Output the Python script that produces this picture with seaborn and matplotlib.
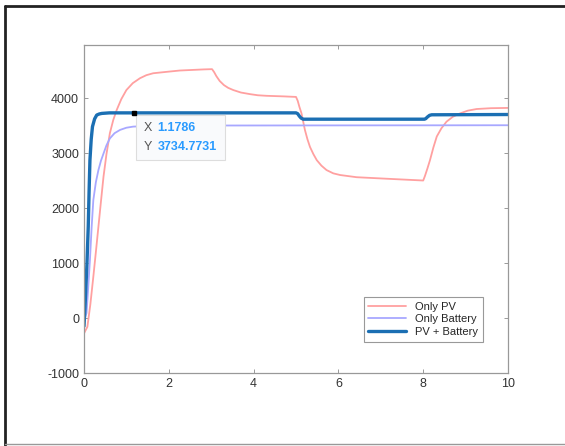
import numpy as np
import pandas as pd
import seaborn as sns
from matplotlib import pyplot as plt
from matplotlib.lines import Line2D
from matplotlib.offsetbox import TextArea, HPacker, VPacker, AnnotationBbox

# values
t_pv = [0, 0.08, 0.15, 0.22, 0.28, 0.34, 0.4, 0.46, 0.53, 0.61, 0.69, 0.77, 0.88, 1.0, 1.15,
        1.32, 1.47, 1.63, 2.0, 2.26, 2.82, 3.02, 3.07, 3.12, 3.2, 3.3, 3.4, 3.52, 3.7, 3.92,
        4.1, 4.31, 4.7, 5.0, 5.04, 5.08, 5.13, 5.17, 5.21, 5.27, 5.33, 5.41, 5.49, 5.6, 5.72,
        5.88, 6.04, 6.43, 7.2, 8.0, 8.04, 8.1, 8.16, 8.24, 8.32, 8.43, 8.55, 8.7, 8.87, 9.05,
        9.26, 9.6, 10]
v_pv = [-280, -160, 250, 750, 1200, 1660, 2120, 2570, 2980, 3360, 3600, 3780, 3980, 4145, 4270,
        4360, 4415, 4450, 4480, 4500, 4520, 4525, 4470, 4400, 4310, 4235, 4185, 4145, 4100, 4070,
        4050, 4040, 4030, 4020, 3950, 3840, 3720, 3570, 3420, 3250, 3110, 2980, 2870, 2770, 2690,
        2630, 2600, 2560, 2530, 2500, 2580, 2720, 2870, 3100, 3300, 3450, 3570, 3660, 3720, 3770,
        3800, 3815, 3820]

t_bat = [0, 0.06, 0.1, 0.14, 0.18, 0.22, 0.28, 0.34, 0.4, 0.46, 0.53, 0.61, 0.72, 0.85, 1.0,
         1.16, 1.6, 3.0, 10]
v_bat = [-50, 90, 560, 1055, 1650, 2145, 2470, 2690, 2860, 2990, 3140, 3265, 3360, 3420, 3460,
         3480, 3495, 3500, 3505]

t_both = [0, 0.03, 0.07, 0.1, 0.12, 0.14, 0.17, 0.2, 0.25, 0.3, 0.36, 0.42, 0.6, 5.0, 5.04,
          5.08, 5.12, 5.17, 8.03, 8.06, 8.1, 8.15, 8.2, 10]
v_both = [-150, 300, 1000, 1660, 2300, 2870, 3250, 3480, 3620, 3690, 3710, 3720, 3730, 3730, 3715,
          3670, 3635, 3615, 3615, 3625, 3655, 3685, 3695, 3700]

tip_x = 1.1786
tip_y = 3734.7731

xticks = [0, 2, 4, 6, 8, 10]
yticks = [-1000, 0, 1000, 2000, 3000, 4000]

sns.set_style("white")
plt.rcParams['font.family'] = ['Liberation Sans', 'DejaVu Sans']
plt.rcParams['axes.unicode_minus'] = False

fig = plt.figure(figsize=(5.65, 4.46), dpi=100)
ax = fig.add_axes([84/565, 73/446, 424/565, 328/446])

pv = pd.DataFrame({'t': t_pv, 'v': v_pv})
bat = pd.DataFrame({'t': t_bat, 'v': v_bat})
both = pd.DataFrame({'t': t_both, 'v': v_both})

sns.lineplot(data=pv, x='t', y='v', ax=ax, color='#ffa0a0', lw=1.3, label='Only PV', estimator=None)
sns.lineplot(data=bat, x='t', y='v', ax=ax, color='#a8a8ff', lw=1.3, label='Only Battery', estimator=None)
sns.lineplot(data=both, x='t', y='v', ax=ax, color='#1b6fb3', lw=2.4, label='PV + Battery', estimator=None)

ax.set_xlim(0, 10)
ax.set_ylim(-1000, 4964)
ax.set_xticks(xticks)
ax.set_yticks(yticks)
ax.set_xlabel('')
ax.set_ylabel('')
ax.tick_params(direction='in', length=3, width=0.7, colors='#999999', labelcolor='#333333',
               labelsize=9, top=True, right=True, bottom=True, left=True)
for s in ax.spines.values():
    s.set_color('#999999')
    s.set_linewidth(0.9)

leg = ax.legend(loc='lower right', bbox_to_anchor=(0.953, 0.079), fontsize=8, fancybox=False,
                handlelength=3.4, borderpad=0.4, labelspacing=0.25, framealpha=1)
leg.get_frame().set_edgecolor('#999999')
leg.get_frame().set_linewidth(0.8)

# datatip
ax.plot([tip_x], [tip_y], marker='s', ms=3, color='black', zorder=5)
row1 = HPacker(children=[TextArea('X', textprops=dict(color='#555555', size=9)),
                         TextArea('%.4f' % tip_x, textprops=dict(color='#2a9bff', size=9, weight='bold'))],
               sep=4, pad=0)
row2 = HPacker(children=[TextArea('Y', textprops=dict(color='#555555', size=9)),
                         TextArea('%.4f' % tip_y, textprops=dict(color='#2a9bff', size=9, weight='bold'))],
               sep=4, pad=0)
box = VPacker(children=[row1, row2], sep=4.5, pad=0)
ab = AnnotationBbox(box, (tip_x, tip_y), xybox=(7, -7), xycoords='data', boxcoords='offset points',
                    box_alignment=(0, 1), pad=0.55, frameon=True,
                    bboxprops=dict(facecolor='#f9fafc', edgecolor='#dddddd', lw=0.8, boxstyle='square,pad=0.55'))
ax.add_artist(ab)

# screenshot frame
fig.add_artist(Line2D([5/565, 5/565], [0, 1 - 6/446], color='#222222', lw=2))
fig.add_artist(Line2D([5/565, 1], [1 - 6/446, 1 - 6/446], color='#222222', lw=2))
fig.add_artist(Line2D([5/565, 1], [2/446, 2/446], color='#999999', lw=1))

fig.savefig('out.png', dpi=100)
